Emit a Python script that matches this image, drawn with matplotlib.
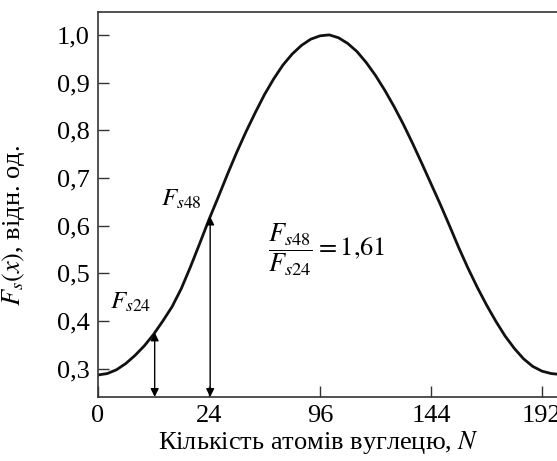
import matplotlib.pyplot as plt

plt.rcParams['font.family'] = ['Liberation Serif', 'DejaVu Serif']
plt.rcParams['mathtext.fontset'] = 'stix'

# крива F_s(x)
x_vals = [0, 4, 8, 12, 16, 20, 24, 28, 32, 36, 40, 44, 48, 52, 56, 60, 64, 68,
          72, 76, 80, 84, 88, 92, 96, 100, 104, 108, 112, 116, 120, 124, 128,
          132, 136, 140, 144, 148, 152, 156, 160, 164, 168, 172, 176, 180, 184,
          188, 192, 196, 198]
f_vals = [0.287, 0.290, 0.298, 0.311, 0.328, 0.348, 0.372, 0.400, 0.430, 0.468,
          0.514, 0.563, 0.613, 0.660, 0.708, 0.754, 0.797, 0.837, 0.875, 0.908,
          0.937, 0.960, 0.978, 0.991, 0.998, 1.000, 0.994, 0.982, 0.965, 0.942,
          0.915, 0.884, 0.850, 0.813, 0.773, 0.731, 0.688, 0.645, 0.600, 0.554,
          0.511, 0.471, 0.434, 0.400, 0.369, 0.343, 0.321, 0.305, 0.295, 0.290,
          0.289]

# стрілки
arrow_x = [24.5, 48.5]
arrow_top = [0.376, 0.619]

tick_pos = [0, 48, 96, 144, 192]
tick_labels = ["0", "24", "96", "144", "192"]
y_ticks = [0.3, 0.4, 0.5, 0.6, 0.7, 0.8, 0.9, 1.0]

fig = plt.figure(figsize=(5.57, 4.61), dpi=100)
ax = fig.add_axes([0.176, 0.139, 0.824, 0.835])

ax.plot(x_vals, f_vals, color="#111111", lw=2.0)

y_bottom = 0.241
for xa, ya in zip(arrow_x, arrow_top):
    ax.annotate("", xy=(xa, ya), xytext=(xa, y_bottom),
                arrowprops=dict(arrowstyle="<|-|>", color="black", lw=1.0,
                                mutation_scale=12, shrinkA=0, shrinkB=0))

ax.text(14.3, 0.44, r"$F_{s24}$", fontsize=18, ha="center", va="center")
ax.text(36, 0.656, r"$F_{s48}$", fontsize=18, ha="center", va="center")
ax.text(73.5, 0.549, r"$\dfrac{F_{s48}}{F_{s24}} = 1{,}61$", fontsize=19,
        ha="left", va="center")

ax.set_xlim(0, 198.5)
ax.set_ylim(0.241, 1.048)
ax.set_xticks(tick_pos)
ax.set_xticklabels(tick_labels)
ax.set_yticks(y_ticks)
ax.set_yticklabels([f"{v:.1f}".replace(".", ",") for v in y_ticks])
ax.tick_params(direction="in", length=8, width=1, labelsize=19, color="#333333")
ax.tick_params(axis="x", pad=6)
ax.tick_params(axis="y", pad=6)

ax.spines["right"].set_visible(False)
for s in ["left", "bottom", "top"]:
    ax.spines[s].set_linewidth(1.2)
    ax.spines[s].set_color("#333333")

ax.set_xlabel(r"Кількість атомів вуглецю, $N$", fontsize=19)
ax.xaxis.set_label_coords(0.481, -0.083)
ax.set_ylabel(r"$F_s(x)$, відн. од.", fontsize=19)
ax.yaxis.set_label_coords(-0.155, 0.444)

fig.savefig("out.png", dpi=100)
